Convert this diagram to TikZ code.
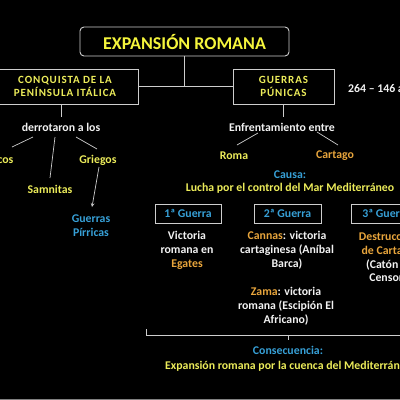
\documentclass[tikz,border=0pt]{standalone}
\usepackage{fontspec}
\setmainfont{Carlito}
\newfontfamily\spacedfont[LetterSpace=8]{Carlito}
\definecolor{ylw}{RGB}{236,236,90}
\definecolor{ttl}{RGB}{245,245,60}
\definecolor{blu}{RGB}{55,160,215}
\definecolor{org}{RGB}{232,165,60}
\definecolor{wht}{RGB}{242,242,242}
\definecolor{brd}{RGB}{205,205,205}
\begin{document}
\begin{tikzpicture}[x=1pt,y=-1pt,
  txt/.style={inner sep=0pt, align=center, text=wht, font=\bfseries\fontsize{11.8}{13.8}\selectfont},
  ytxt/.style={txt, text=ylw},
  btxt/.style={txt, text=blu},
  otxt/.style={txt, text=org},
  capbox/.style={draw=brd, line width=0.8pt, inner sep=0pt, align=center, text=ylw, font=\spacedfont\bfseries\fontsize{11}{12.5}\selectfont},
  gbox/.style={draw=brd, line width=0.9pt, inner sep=0pt, text=blu, font=\bfseries\fontsize{11.8}{12}\selectfont, minimum height=19pt},
  conn/.style={draw=brd, line width=0.7pt}]
\fill[black] (0,0) rectangle (400,400);
\useasboundingbox (0,0) rectangle (400,400);
\clip (0,0) rectangle (400,400);
\fill[gray] (0,399) rectangle (400,400);

% title and top boxes
\node[draw=brd, line width=0.9pt, rounded corners=4pt, minimum width=209pt, minimum height=29pt, inner sep=0pt,
      text=ttl, font=\bfseries\fontsize{18}{20}\selectfont] (title) at (184.5,41.5) {EXPANSIÓN ROMANA};
\node[capbox, minimum width=146pt, minimum height=35pt] (lbox) at (65,86.5) {CONQUISTA DE LA\\PENÍNSULA ITÁLICA};
\node[capbox, minimum width=101pt, minimum height=35pt] (rbox) at (283.5,86.5) {GUERRAS\\PÚNICAS};
\draw[conn] (title.south) |- (lbox.east);
\draw[conn] (title.south) |- (rbox.west);
\node[txt, anchor=west] (dates) at (348,89) {264 – 146 a.C.};

% left branch
\node[txt] (derr) at (61,127) {derrotaron a los};
\draw[conn] (derr.north |- lbox.south) -- ([shift={(0,-10)}]derr.center);
\node[ytxt] (etr) at (-7,160) {Etruscos};
\node[ytxt] (samn) at (50,189) {Samnitas};
\node[ytxt] (grieg) at (98,160) {Griegos};
\node[btxt] (pirr) at (91,226) {Guerras\\Pírricas};
\draw[conn] ([shift={(-28,10)}]derr.center) -- ([shift={(19,-13)}]etr.center);
\draw[conn] ([shift={(-6,10)}]derr.center) -- ([shift={(0,-11)}]samn.center);
\draw[conn] ([shift={(15,10)}]derr.center) -- ([shift={(-1,-11)}]grieg.center);
\draw[conn, ->, >=stealth] ([shift={(1,7)}]grieg.center) -- ([shift={(1,-19)}]pirr.center);

% right branch
\node[txt] (enf) at (282,127) {Enfrentamiento entre};
\draw[conn] (rbox.south) -- ([shift={(1.5,-10)}]enf.center);
\node[ytxt] (roma) at (234,156) {Roma};
\node[otxt] (cart) at (335,156) {Cartago};
\draw[conn] ([shift={(-24,6)}]enf.center) -- ([shift={(3,-11)}]roma.center);
\draw[conn] ([shift={(35,5)}]enf.center) -- ([shift={(3,-11)}]cart.center);
\node[btxt] (causa) at (290,175) {Causa:};
\node[ytxt] (lucha) at (290,188.5) {Lucha por el control del Mar Mediterráneo};

% wars
\node[gbox, minimum width=66pt] (g1) at (188,213.5) {1ª Guerra};
\node[gbox, minimum width=67pt] (g2) at (287.5,213.5) {2ª Guerra};
\node[gbox, minimum width=70pt] (g3) at (386,213.5) {3ª Guerra};
\node[txt] (v1) at (187,250.5) {Victoria\\romana en\\\textcolor{org}{Egates}};
\node[txt] (v2) at (287,250.5) {\textcolor{org}{Cannas}: victoria\\cartaginesa (Aníbal\\Barca)};
\node[txt] (zama) at (286,306) {\textcolor{org}{Zama}: victoria\\romana (Escipión El\\Africano)};
\node[txt] (v3) at (388,258) {\textcolor{org}{Destrucción}\\\textcolor{org}{de Cartago}\\(Catón el\\Censor)};

% consequence bracket
\draw[conn] (146,329) -- (146,335) -- (410,335);
\node[btxt] (cons) at (288,350) {Consecuencia:};
\draw[conn] (cons.north |- 0,335) -- (cons.north |- 0,340);
\node[ytxt, anchor=west] (expo) at (165,366) {Expansión romana por la cuenca del Mediterráneo};
\end{tikzpicture}
\end{document}
